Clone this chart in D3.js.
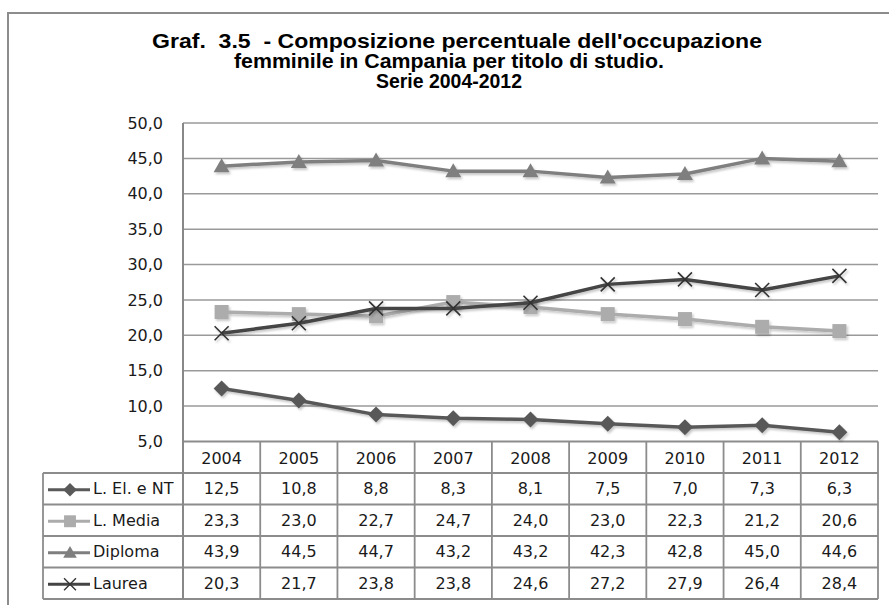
<!DOCTYPE html>
<html lang="it">
<head>
<meta charset="utf-8" />
<title>Graf. 3.5</title>
<script src="https://cdn.jsdelivr.net/npm/d3@7"></script>
<style>
  body { margin: 0; background: #fff; }
  svg text { font-family: "DejaVu Sans", sans-serif; fill: #1a1a1a; }
  .title { font-family: "Liberation Sans", Arial, sans-serif !important; font-weight: bold; font-size: 20px; fill: #000 !important; }
</style>
</head>
<body>
<div id="chart"></div>
<script>
// data
var years = ["2004", "2005", "2006", "2007", "2008", "2009", "2010", "2011", "2012"];
var seriesNames = ["L. El. e NT", "L. Media", "Diploma", "Laurea"];
var lElNT = [12.5, 10.8, 8.8, 8.3, 8.1, 7.5, 7.0, 7.3, 6.3];
var lMedia = [23.3, 23.0, 22.7, 24.7, 24.0, 23.0, 22.3, 21.2, 20.6];
var diploma = [43.9, 44.5, 44.7, 43.2, 43.2, 42.3, 42.8, 45.0, 44.6];
var laurea = [20.3, 21.7, 23.8, 23.8, 24.6, 27.2, 27.9, 26.4, 28.4];
var yTicks = [5, 10, 15, 20, 25, 30, 35, 40, 45, 50];
var titleLines = ["Graf.  3.5  - Composizione percentuale dell'occupazione",
                  "femminile in Campania per titolo di studio.",
                  "Serie 2004-2012"];

var series = [
  { name: seriesNames[0], values: lElNT, color: "#595959", marker: "diamond" },
  { name: seriesNames[1], values: lMedia, color: "#acacac", marker: "square" },
  { name: seriesNames[2], values: diploma, color: "#7f7f7f", marker: "triangle" },
  { name: seriesNames[3], values: laurea, color: "#444444", marker: "cross" }
];

var W = 889, H = 605;
var plotLeft = 183, plotRight = 878, plotTop = 123, plotBottom = 441.5;
var tableLeft = 43, rowH = 31.5;

var it = d3.formatLocale({ decimal: ",", thousands: ".", grouping: [3], currency: ["", "€"] });
var fmt = it.format(".1f");

var svg = d3.select("#chart").append("svg")
  .attr("width", W).attr("height", H);

var defs = svg.append("defs");
var sh = defs.append("filter").attr("id", "shadow")
  .attr("x", "-10%").attr("y", "-10%").attr("width", "120%").attr("height", "130%");
sh.append("feDropShadow").attr("dx", 1.5).attr("dy", 2).attr("stdDeviation", 1)
  .attr("flood-color", "#000").attr("flood-opacity", 0.22);

// outer frame
svg.append("rect").attr("x", 8).attr("y", 13).attr("width", 900).attr("height", 620)
  .attr("fill", "none").attr("stroke", "#8c8c8c").attr("stroke-width", 2);

// title (narrow bold face, squeezed to the reference widths)
var titleWidths = [610, 430, 146];
var titleCx = [457, 449, 449];
svg.selectAll(".title").data(titleLines).enter().append("text")
  .attr("class", "title")
  .attr("x", (d, i) => titleCx[i])
  .attr("y", (d, i) => 48 + i * 20)
  .attr("text-anchor", "middle")
  .attr("xml:space", "preserve")
  .style("white-space", "pre")
  .attr("textLength", (d, i) => titleWidths[i])
  .attr("lengthAdjust", "spacingAndGlyphs")
  .text(d => d);

var x = d3.scaleBand().domain(years).range([plotLeft, plotRight]);
var y = d3.scaleLinear().domain([5, 50]).range([plotBottom, plotTop]);

// grid
svg.append("g").selectAll("line").data(yTicks.filter(t => t > 5)).enter().append("line")
  .attr("x1", plotLeft).attr("x2", plotRight)
  .attr("y1", d => y(d)).attr("y2", d => y(d))
  .attr("stroke", "#9a9a9a").attr("stroke-width", 1.5);

// y axis
var yAxis = svg.append("g").attr("transform", "translate(" + plotLeft + ",0)")
  .call(d3.axisLeft(y).tickValues(yTicks).tickFormat(fmt).tickSize(0).tickPadding(20));
yAxis.select(".domain").remove();
yAxis.selectAll("text").style("font-family", "DejaVu Sans").style("font-size", "16px")
  .attr("fill", "#1a1a1a");

// table grid
var tableBottom = plotBottom + rowH * 5;
var tg = svg.append("g").attr("stroke", "#8c8c8c").attr("stroke-width", 1.8);
tg.append("line").attr("x1", plotLeft).attr("x2", plotRight).attr("y1", plotBottom).attr("y2", plotBottom);
for (var r = 1; r <= 5; r++) {
  tg.append("line").attr("x1", tableLeft).attr("x2", plotRight)
    .attr("y1", plotBottom + r * rowH).attr("y2", plotBottom + r * rowH);
}
tg.append("line").attr("x1", tableLeft).attr("x2", tableLeft)
  .attr("y1", plotBottom + rowH).attr("y2", tableBottom);
years.forEach(function (yr) {
  tg.append("line").attr("x1", x(yr)).attr("x2", x(yr))
    .attr("y1", plotBottom).attr("y2", tableBottom);
});
tg.append("line").attr("x1", plotRight).attr("x2", plotRight).attr("y1", plotBottom).attr("y2", tableBottom);
svg.append("line").attr("x1", plotLeft).attr("x2", plotLeft).attr("y1", plotTop).attr("y2", tableBottom)
  .attr("stroke", "#888").attr("stroke-width", 2);

// header row
svg.append("g").selectAll("text").data(years).enter().append("text")
  .attr("x", d => x(d) + x.bandwidth() / 2)
  .attr("y", plotBottom + rowH / 2 + 2)
  .attr("text-anchor", "middle").attr("dominant-baseline", "middle")
  .style("font-size", "16px")
  .text(d => d);

// markers
function drawMarker(g, type, color, size) {
  var s = size || 1;
  if (type === "diamond") {
    g.append("path").attr("d", "M0,-8L8,0L0,8L-8,0Z").attr("transform", "scale(" + s + ")")
      .attr("fill", color);
  } else if (type === "square") {
    g.append("rect").attr("x", -7 * s).attr("y", -7 * s).attr("width", 14 * s).attr("height", 14 * s)
      .attr("fill", color);
  } else if (type === "triangle") {
    g.append("path").attr("d", "M0,-8L8,6L-8,6Z").attr("transform", "scale(" + s + ")")
      .attr("fill", color);
  } else {
    g.append("path").attr("d", "M-7,-7L7,7M-7,7L7,-7").attr("transform", "scale(" + s + ")")
      .attr("stroke", "#333").attr("stroke-width", 1.6).attr("fill", "none");
  }
}

var line = d3.line().x((d, i) => x(years[i]) + x.bandwidth() / 2).y(d => y(d));

series.forEach(function (s, si) {
  var g = svg.append("g").attr("filter", "url(#shadow)");
  g.append("path").datum(s.values).attr("d", line)
    .attr("fill", "none").attr("stroke", s.color).attr("stroke-width", 3.5)
    .attr("stroke-linejoin", "round");
  s.values.forEach(function (v, i) {
    var mg = g.append("g").attr("transform",
      "translate(" + (x(years[i]) + x.bandwidth() / 2) + "," + y(v) + ")");
    drawMarker(mg, s.marker, s.color);
  });

  // table row
  var rowY = plotBottom + rowH * (si + 1) + rowH / 2 + 1;
  var lg = svg.append("g");
  lg.append("line").attr("x1", 48).attr("x2", 90).attr("y1", rowY).attr("y2", rowY)
    .attr("stroke", s.color).attr("stroke-width", 3);
  var mk = lg.append("g").attr("transform", "translate(70," + rowY + ")");
  drawMarker(mk, s.marker, s.color, 0.85);
  lg.append("text").attr("x", 93).attr("y", rowY)
    .attr("dominant-baseline", "middle").style("font-size", "16px")
    .text(s.name);
  svg.append("g").selectAll("text").data(s.values).enter().append("text")
    .attr("x", (d, i) => x(years[i]) + x.bandwidth() / 2)
    .attr("y", rowY)
    .attr("text-anchor", "middle").attr("dominant-baseline", "middle")
    .style("font-size", "16px")
    .text(d => fmt(d));
});
</script>
</body>
</html>
